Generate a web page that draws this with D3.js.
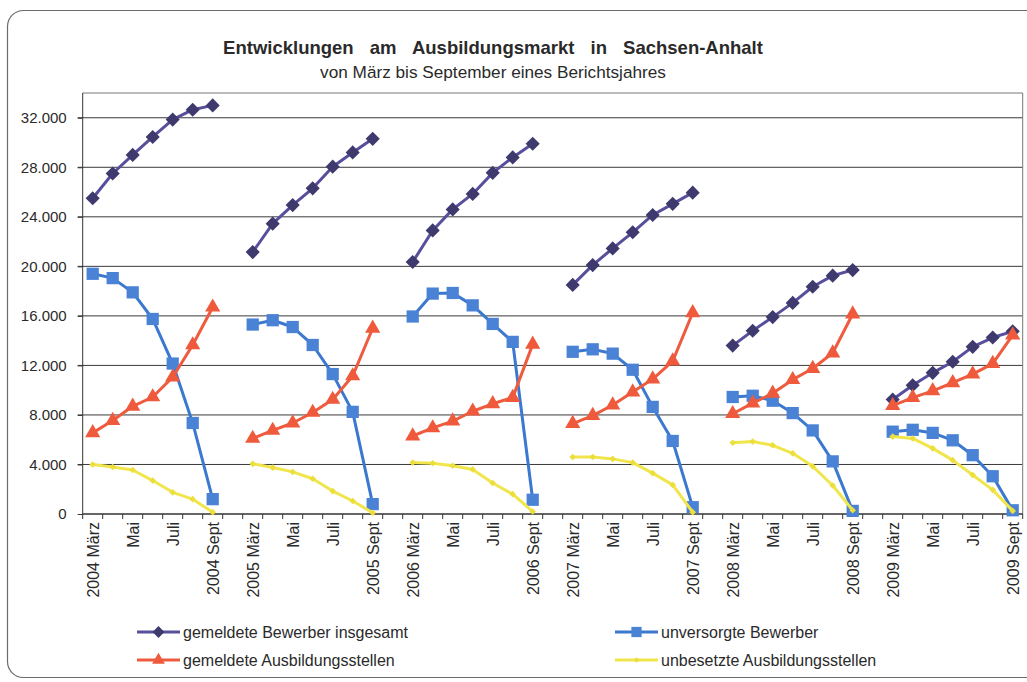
<!DOCTYPE html>
<html><head><meta charset="utf-8">
<script src="https://cdn.jsdelivr.net/npm/d3@7"></script>
<style>
html,body{margin:0;padding:0;background:#fff;}
svg{display:block;font-family:"Liberation Sans",Arial,sans-serif;}
</style></head>
<body><svg id="c" width="1027" height="682"></svg>
<script>
const years = [2004, 2005, 2006, 2007, 2008, 2009];
const months = ["März", "April", "Mai", "Juni", "Juli", "August", "Sept"];
const yTicks = [0, 4000, 8000, 12000, 16000, 20000, 24000, 28000, 32000];

// values per year, März..Sept
const bewerberGesamt = [
  [25500, 27500, 29000, 30450, 31850, 32650, 33000],
  [21150, 23450, 24950, 26300, 28050, 29200, 30300],
  [20350, 22900, 24600, 25850, 27550, 28800, 29900],
  [18500, 20100, 21450, 22750, 24150, 25050, 25950],
  [13600, 14800, 15900, 17050, 18350, 19250, 19700],
  [9250, 10400, 11400, 12300, 13500, 14250, 14750]
];
const unversorgt = [
  [19400, 19050, 17900, 15750, 12150, 7350, 1200],
  [15300, 15650, 15100, 13650, 11300, 8250, 800],
  [15950, 17800, 17850, 16850, 15350, 13900, 1150],
  [13100, 13300, 12950, 11650, 8650, 5900, 550],
  [9450, 9550, 9150, 8150, 6750, 4250, 250],
  [6650, 6800, 6550, 5950, 4750, 3050, 300]
];
const stellen = [
  [6550, 7550, 8700, 9450, 11050, 13650, 16700],
  [6100, 6750, 7350, 8200, 9250, 11150, 15000],
  [6300, 6950, 7500, 8300, 8900, 9400, 13700],
  [7300, 7950, 8800, 9850, 10900, 12350, 16250],
  [8100, 8950, 9750, 10850, 11750, 13000, 16150],
  [8750, 9400, 9950, 10600, 11300, 12150, 14450]
];
const unbesetzt = [
  [4000, 3800, 3550, 2700, 1750, 1200, 150],
  [4050, 3750, 3400, 2850, 1850, 1050, 100],
  [4150, 4100, 3900, 3600, 2500, 1600, 200],
  [4600, 4600, 4450, 4150, 3300, 2350, 150],
  [5750, 5850, 5550, 4900, 3850, 2300, 300],
  [6250, 6100, 5300, 4350, 3150, 1950, 250]
];

const seriesNames = ["gemeldete Bewerber insgesamt", "unversorgte Bewerber", "gemeldete Ausbildungsstellen", "unbesetzte Ausbildungsstellen"];

const svg = d3.select("#c");
const L = 82.7, R = 1022.7, T = 93, B = 514;

// category keys with a gap slot between years
const keys = [];
years.forEach((y, i) => {
  months.forEach(m => keys.push(y + "-" + m));
  if (i < years.length - 1) keys.push("gap-" + y);
});
const x = d3.scaleBand().domain(keys).range([L, R]).padding(0);
const y = d3.scaleLinear().domain([0, 34000]).range([B, T]);

const de = d3.formatLocale({decimal: ",", thousands: ".", grouping: [3], currency: ["", " €"]});
const fmt = de.format(",d");

// outer rounded frame
svg.append("rect").attr("x", 7.5).attr("y", 10.5).attr("width", 1050).attr("height", 667)
  .attr("rx", 16).attr("fill", "none").attr("stroke", "#6b6b6b").attr("stroke-width", 1.2);

// title
svg.append("text").attr("x", 493).attr("y", 54).attr("text-anchor", "middle")
  .attr("font-size", 18.5).attr("font-weight", "bold").attr("fill", "#2a2a2a")
  .attr("word-spacing", 11)
  .text("Entwicklungen am Ausbildungsmarkt in Sachsen-Anhalt");
svg.append("text").attr("x", 493).attr("y", 78).attr("text-anchor", "middle")
  .attr("font-size", 17.2).attr("fill", "#2a2a2a")
  .text("von März bis September eines Berichtsjahres");

// gridlines
svg.append("g").selectAll("line").data(yTicks.filter(d => d > 0)).join("line")
  .attr("x1", L - 5).attr("x2", R).attr("y1", d => y(d)).attr("y2", d => y(d))
  .attr("stroke", "#3a3a3a").attr("stroke-width", 1);

// plot frame (top/right)
svg.append("path").attr("d", `M${L},${T}H${R}V${B}`).attr("fill", "none")
  .attr("stroke", "#777").attr("stroke-width", 1);

// y axis
const yAxis = svg.append("g").attr("transform", `translate(${L},0)`)
  .call(d3.axisLeft(y).tickValues(yTicks).tickFormat(fmt).tickSize(5).tickPadding(11));
yAxis.select(".domain").attr("stroke", "#333").attr("d", `M-0,${T}V${B}`);
yAxis.selectAll(".tick line").attr("stroke", "#333");
yAxis.selectAll("text").attr("font-size", 15).attr("fill", "#2a2a2a")
  .attr("font-family", "'Liberation Sans',Arial,sans-serif");

// x axis baseline and ticks at slot boundaries
svg.append("line").attr("x1", L).attr("x2", R).attr("y1", B).attr("y2", B)
  .attr("stroke", "#333").attr("stroke-width", 1.3);
const bounds = keys.map(k => x(k)).concat([R]);
svg.append("g").selectAll("line").data(bounds).join("line")
  .attr("x1", d => d).attr("x2", d => d).attr("y1", B).attr("y2", B + 5)
  .attr("stroke", "#333");

// x labels
const labelFor = k => {
  if (k.startsWith("gap")) return "";
  const [yr, m] = k.split("-");
  if (m === "März" || m === "Sept") return yr + " " + m;
  if (m === "Mai" || m === "Juli") return m;
  return "";
};
svg.append("g").selectAll("text").data(keys.filter(k => labelFor(k) !== "")).join("text")
  .attr("transform", k => `translate(${x(k) + x.bandwidth() / 2 + 6},${B + 8}) rotate(-90)`)
  .attr("text-anchor", "end").attr("font-size", 16).attr("fill", "#2a2a2a")
  .text(labelFor);

// series
const styles = [
  {data: bewerberGesamt, line: "#574f9c", fill: "#3f3a6e", sym: d3.symbolSquare, size: 100, rot: 45, lw: 3},
  {data: unversorgt, line: "#3b78cf", fill: "#4a82d6", sym: d3.symbolSquare, size: 150, rot: 0, lw: 3},
  {data: stellen, line: "#ee5b3f", fill: "#ef5a3c", sym: d3.symbolTriangle, size: 100, rot: 0, lw: 3},
  {data: unbesetzt, line: "#f0e64c", fill: "#ecdf3c", sym: d3.symbolSquare, size: 22, rot: 45, lw: 3}
];
const cx = (yi, mi) => x(years[yi] + "-" + months[mi]) + x.bandwidth() / 2;
const line = d3.line().x(d => d.x).y(d => d.y);

styles.forEach(s => {
  const g = svg.append("g");
  s.data.forEach((vals, yi) => {
    const pts = vals.map((v, mi) => ({x: cx(yi, mi), y: y(v)}));
    g.append("path").attr("d", line(pts)).attr("fill", "none")
      .attr("stroke", s.line).attr("stroke-width", s.lw).attr("stroke-linejoin", "round");
    g.selectAll(null).data(pts).join("path")
      .attr("transform", d => `translate(${d.x},${d.y}) rotate(${s.rot})`)
      .attr("d", d3.symbol().type(s.sym).size(s.size))
      .attr("fill", s.fill);
  });
});

// legend
const legendPos = [[137, 632], [615, 632], [137, 660], [615, 660]];
[0, 1, 2, 3].forEach((si, i) => {
  const s = styles[si];
  const [lx, ly] = legendPos[i];
  const g = svg.append("g");
  g.append("line").attr("x1", lx).attr("x2", lx + 43).attr("y1", ly).attr("y2", ly)
    .attr("stroke", s.line).attr("stroke-width", 3);
  g.append("path").attr("transform", `translate(${lx + 21.5},${ly}) rotate(${s.rot})`)
    .attr("d", d3.symbol().type(s.sym).size(s.size * 0.7)).attr("fill", s.fill);
  g.append("text").attr("x", lx + 46).attr("y", ly + 6).attr("font-size", 16)
    .attr("fill", "#2a2a2a").text(seriesNames[si]);
});
</script>
</body></html>
